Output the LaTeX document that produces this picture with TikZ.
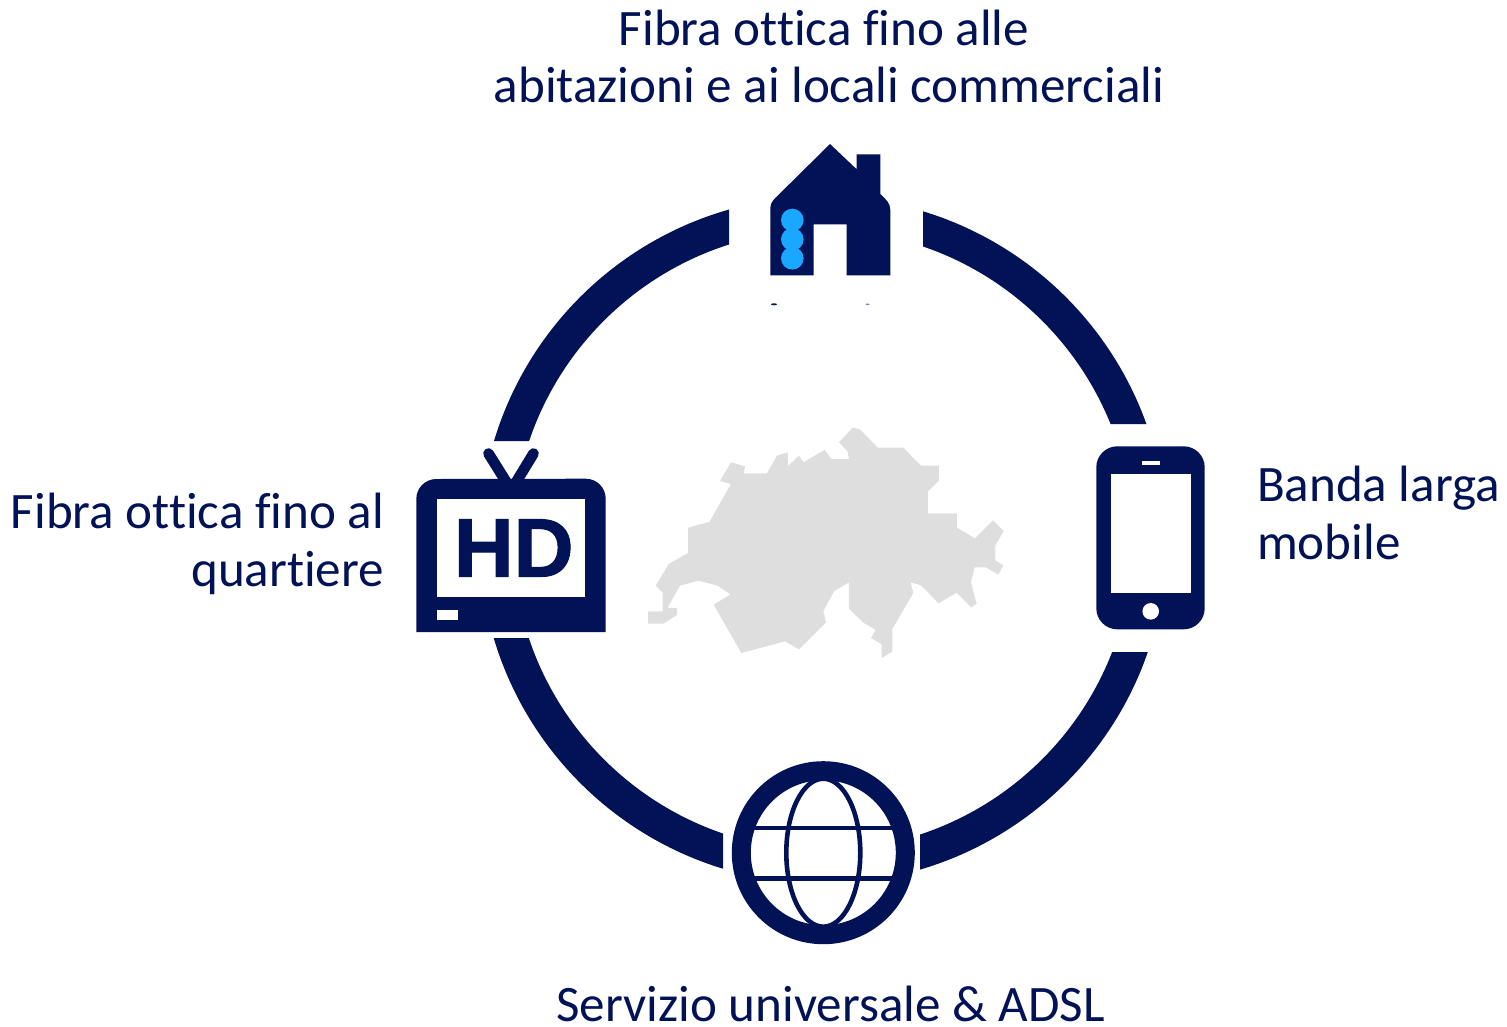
\documentclass[tikz,border=0pt]{standalone}
\usepackage{fontspec}
\setmainfont[Ligatures={NoCommon}]{Carlito}
\newfontfamily\hdfont[FakeBold=1.2]{Liberation Sans}
\definecolor{navy}{HTML}{011257}
\definecolor{sky}{HTML}{1AA7FF}
\definecolor{map}{HTML}{DEDEDE}
\tikzset{
  lbl/.style={text=navy,font=\fontsize{51.1}{51}\selectfont,inner sep=0pt,outer sep=0pt},
  icon/.style={fill=navy,draw=none},
  hole/.style={fill=white,draw=none}
}
\begin{document}
\begin{tikzpicture}[x=1pt,y=-1pt,line join=miter]
\useasboundingbox (0,0) rectangle (1507,1026);
% ring
\begin{scope}
\clip (400,100) rectangle (729,441) (923,100) rectangle (1250,424)
      (920,652) rectangle (1250,950) (400,638) rectangle (723,950);
\draw[navy,line width=33.5pt] (823,540) circle[radius=326.75];
\end{scope}
% house
\fill[icon] (830,144) -- (856.7,169.3) -- (856.7,154.3) -- (880.3,154.3) -- (880.3,194)
  .. controls (886,199.5) and (890.3,203) .. (890.3,210) -- (890.3,275.3) -- (846.7,275.3)
  -- (846.7,224.3) -- (813.7,224.3) -- (813.7,275.3) -- (770.3,275.3) -- (770.3,209.3)
  .. controls (770.3,204) and (772,201.5) .. (775,198.3) -- cycle;
\fill[sky] (792.3,220) circle[radius=11.3] (792.3,239.3) circle[radius=11.3] (792.3,258.3) circle[radius=11.3];
\fill[icon] (774,304.3) ellipse[x radius=3,y radius=1];
\fill[icon,opacity=.5] (867.5,304.3) ellipse[x radius=2,y radius=.8];
% map
\begin{scope}[shift={(630,410)},x=0.3333pt,y=-0.3333pt]
\fill[map] (668,53)--(690,58)--(743,113)--(820,113)--(873,167)--(927,167)--(927,212)--(894,244)--(894,310)--(981,310)--(981,353)--(1035,385)--(1089,331)--(1121,363)--(1096,407)--(1096,451)--(1120,466)--(1105,494)--(1067,472)--(1034,472)--(1023,517)--(1040,581)--(1024,592)--(980,548)--(926,580)--(873,526)--(842,517)--(850,549)--(787,657)--(787,725)--(755,744)--(755,703)--(723,684)--(737,660)--(700,638)--(657,596)--(657,517)--(613,543)--(580,603)--(588,637)--(507,718)--(465,694)--(334,729)--(251,584)--(302,553)--(260,526)--(205,512)--(150,527)--(112,594)--(141,594)--(141,615)--(100,641)--(54,641)--(54,604)--(98,604)--(98,548)--(77,527)--(116,462)--(174,429)--(174,353)--(238,336)--(303,222)--(270,213)--(303,157)--(345,169)--(341,190)--(411,190)--(441,137)--(474,127)--(474,168)--(507,137)--(520,157)--(584,120)--(605,147)--(657,147)--(653,124)--(627,97)--cycle;
\end{scope}
% tv
\draw[navy,line width=10.7pt,line cap=round] (488.5,453.5) -- (511.3,490) -- (533.5,453.5);
\fill[icon] (416.3,632) -- (416.3,499) arc[start angle=180,end angle=90,x radius=20,y radius=-20] -- (585.7,478.7)
  arc[start angle=90,end angle=0,x radius=20,y radius=-20] -- (605.7,632) -- cycle;
\fill[hole] (437.3,499.3) rectangle (585,596.7);
\fill[hole] (437.3,610) rectangle (457.7,619.7);
\node[anchor=base,inner sep=0pt,text=navy,font=\hdfont\fontsize{83}{83}\bfseries\selectfont] (hd) at (513.7,576.5) {HD};
% phone
\fill[icon,rounded corners=21pt] (1096.3,446.3) rectangle (1204.7,629.3);
\fill[hole] (1110.7,474.3) rectangle (1190.7,593);
\fill[hole] (1141.7,460.7) rectangle (1160,465);
\fill[hole] (1150.7,611.3) circle[radius=8.3];
% globe
\begin{scope}
\clip (823.3,852.7) circle[radius=80];
\draw[navy,line width=4.6pt] (823.3,852.7) ellipse[x radius=37,y radius=74];
\draw[navy,line width=4.6pt] (740,828) -- (905,828);
\draw[navy,line width=4.6pt] (740,878.3) -- (905,878.3);
\end{scope}
\draw[navy,line width=19pt] (823.3,852.7) circle[radius=82];
% labels
\node[lbl,anchor=base] (t1) at (824,45) {Fibra ottica fino alle};
\node[lbl,anchor=base] (t2) at (829,102) {abitazioni e ai locali commerciali};
\node[lbl,anchor=base east] (l1) at (384,528) {Fibra ottica fino al};
\node[lbl,anchor=base east] (l2) at (384,586) {quartiere};
\node[lbl,anchor=base west] (r1) at (1257,501) {Banda larga};
\node[lbl,anchor=base west] (r2) at (1257,559) {mobile};
\node[lbl,anchor=base] (b1) at (830.5,1021) {Servizio universale \& ADSL};
\end{tikzpicture}
\end{document}
